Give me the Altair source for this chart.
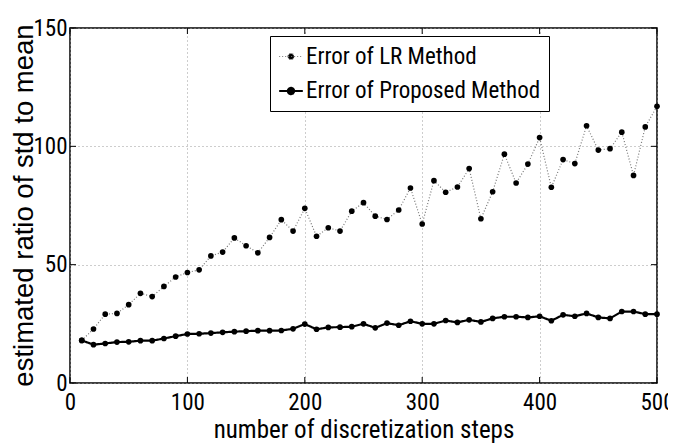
import altair as alt
import pandas as pd

steps = [10, 20, 30, 40, 50, 60, 70, 80, 90, 100,
         110, 120, 130, 140, 150, 160, 170, 180, 190, 200,
         210, 220, 230, 240, 250, 260, 270, 280, 290, 300,
         310, 320, 330, 340, 350, 360, 370, 380, 390, 400,
         410, 420, 430, 440, 450, 460, 470, 480, 490, 500]

lr_error = [18.0, 22.8, 29.1, 29.4, 33.1, 37.9, 36.5, 40.8, 44.8, 46.7,
            47.8, 53.7, 55.3, 61.3, 58.0, 55.0, 61.5, 69.0, 64.2, 73.8,
            62.0, 65.6, 64.2, 72.6, 76.2, 70.5, 69.1, 73.1, 82.4, 67.2,
            85.5, 80.6, 82.8, 90.6, 69.4, 80.8, 96.7, 84.5, 92.5, 103.7,
            82.7, 94.4, 92.7, 108.7, 98.4, 99.0, 106.0, 87.7, 108.2, 116.9]

proposed_error = [18.0, 16.2, 16.7, 17.3, 17.4, 17.9, 17.9, 18.8, 19.8, 20.7,
                  20.8, 21.1, 21.4, 21.7, 21.9, 22.1, 22.1, 22.2, 22.9, 24.9,
                  22.7, 23.5, 23.6, 23.8, 25.0, 23.3, 25.3, 24.4, 26.1, 25.0,
                  25.0, 26.4, 25.6, 26.7, 25.8, 27.3, 28.0, 28.0, 27.7, 28.2,
                  26.3, 28.8, 28.2, 29.4, 27.7, 27.3, 30.2, 30.2, 29.1, 29.1]

series_names = ["Error of LR Method", "Error of Proposed Method"]
x_ticks = [0, 100, 200, 300, 400, 500]
y_ticks = [0, 50, 100, 150]

W, H = 587, 355
NARROW = "Roboto Condensed, Liberation Sans Narrow, Arial Narrow, Liberation Sans, sans-serif"
REG = "Liberation Sans, Arial, Helvetica, sans-serif"

df = pd.concat([
    pd.DataFrame({"steps": steps, "value": lr_error, "series": series_names[0]}),
    pd.DataFrame({"steps": steps, "value": proposed_error, "series": series_names[1]}),
])

xscale = alt.Scale(domain=[0, 500], nice=False, zero=False)
yscale = alt.Scale(domain=[0, 150], nice=False)

legend_path = ("M-1,0L1,0M-0.26,0A0.26,0.26,0,1,1,0.26,0"
               "A0.26,0.26,0,1,1,-0.26,0Z")

base = alt.Chart(df)

lines = base.mark_line().encode(
    x=alt.X("steps:Q", scale=xscale,
            axis=alt.Axis(values=x_ticks, title="number of discretization steps",
                          titleY=54, titleBaseline="alphabetic")),
    y=alt.Y("value:Q", scale=yscale,
            axis=alt.Axis(values=y_ticks, title="estimated ratio of std to mean",
                          titleFont=REG, titleFontSize=27.5, titleX=-38, titleY=177,
                          titleAngle=270, titleAlign="center",
                          titleBaseline="alphabetic")),
    color=alt.Color("series:N",
                    scale=alt.Scale(domain=series_names, range=["#777777", "#000000"]),
                    legend=alt.Legend(title=None, orient="none", legendX=200, legendY=8,
                                      symbolType=legend_path, symbolSize=560,
                                      symbolFillColor="black", symbolStrokeWidth=1.5,
                                      labelFont=NARROW, labelFontSize=23, labelLimit=500,
                                      labelColor="black", labelOffset=2,
                                      rowPadding=9, padding=8,
                                      strokeColor="black", fillColor="white")),
    strokeDash=alt.StrokeDash("series:N",
                              scale=alt.Scale(domain=series_names, range=[[1, 2], [1, 0]]),
                              legend=None),
    strokeWidth=alt.StrokeWidth("series:N",
                                scale=alt.Scale(domain=series_names, range=[1.2, 2.2]),
                                legend=None),
)

points = base.mark_point(filled=True, color="black", opacity=1, size=32).encode(
    x=alt.X("steps:Q", scale=xscale),
    y=alt.Y("value:Q", scale=yscale),
    detail="series:N",
)

xt = pd.DataFrame({"t": x_ticks})
yt = pd.DataFrame({"t": y_ticks})

xticks_bottom = alt.Chart(xt).mark_rule(color="black", strokeWidth=1).encode(
    x=alt.X("t:Q", scale=xscale), y=alt.value(H), y2=alt.value(H - 6))
xticks_top = alt.Chart(xt).mark_rule(color="black", strokeWidth=1).encode(
    x=alt.X("t:Q", scale=xscale), y=alt.value(0), y2=alt.value(6))
yticks_left = alt.Chart(yt).mark_rule(color="black", strokeWidth=1).encode(
    y=alt.Y("t:Q", scale=yscale), x=alt.value(0), x2=alt.value(6))
yticks_right = alt.Chart(yt).mark_rule(color="black", strokeWidth=1).encode(
    y=alt.Y("t:Q", scale=yscale), x=alt.value(W), x2=alt.value(W - 6))

chart = alt.layer(
    lines, points, xticks_bottom, xticks_top, yticks_left, yticks_right
).properties(
    width=W, height=H,
    autosize=alt.AutoSizeParams(type="none"),
    padding={"left": 62, "top": 20, "right": 11, "bottom": 61},
).configure_view(
    stroke="black", strokeWidth=1.5
).configure_axis(
    grid=True, gridColor="#9a9a9a", gridDash=[1, 3], gridWidth=1, gridOpacity=1,
    domain=False, ticks=False, tickSize=0, labelFlush=False,
    labelFont=NARROW, labelFontSize=23, labelColor="black",
    titleFont=NARROW, titleFontSize=25, titleColor="black", titleFontWeight="normal",
).configure_axisX(
    labelPadding=8, labelBaseline="top",
).configure_axisY(
    labelPadding=3, labelBaseline="middle",
).configure_legend(
    symbolFillColor="black"
)

chart.save("out.html", embed_options={"renderer": "svg", "actions": False})
